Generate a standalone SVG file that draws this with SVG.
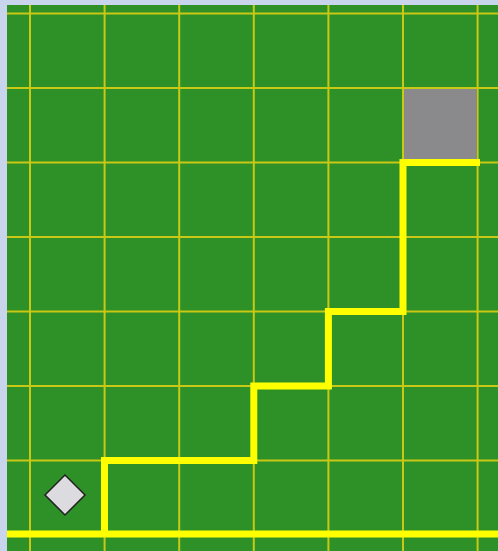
<svg xmlns="http://www.w3.org/2000/svg" width="498" height="551" viewBox="0 0 498 551">
<style>
.grid line{stroke:#c9c814;stroke-width:2}
.path{fill:none;stroke:#ffff00;stroke-width:7;stroke-linejoin:miter;stroke-linecap:butt}
</style>
<rect width="498" height="551" fill="#c9d5ec"/>
<rect x="7" y="5" width="491" height="546" fill="#2e9128"/>
<g class="grid">
<line x1="30" y1="5" x2="30" y2="551"/>
<line x1="104.6" y1="5" x2="104.6" y2="551"/>
<line x1="179.2" y1="5" x2="179.2" y2="551"/>
<line x1="253.8" y1="5" x2="253.8" y2="551"/>
<line x1="328.4" y1="5" x2="328.4" y2="551"/>
<line x1="403" y1="5" x2="403" y2="551"/>
<line x1="477.6" y1="5" x2="477.6" y2="551"/>
<line x1="7" y1="13.5" x2="498" y2="13.5"/>
<line x1="7" y1="88" x2="498" y2="88"/>
<line x1="7" y1="162.5" x2="498" y2="162.5"/>
<line x1="7" y1="237" x2="498" y2="237"/>
<line x1="7" y1="311.5" x2="498" y2="311.5"/>
<line x1="7" y1="386" x2="498" y2="386"/>
<line x1="7" y1="460.5" x2="498" y2="460.5"/>
<line x1="7" y1="535" x2="498" y2="535"/>
</g>
<g id="goal"><rect x="404" y="89" width="73" height="73" fill="#8a8a8c"/></g>
<g id="connectors">
<path class="path" d="M7 534 H498"/>
<path class="path" d="M104.5 534 V460.5 H253.8 V386 H328.4 V311.5 H403 V162.5 H480"/>
</g>
<g id="start"><polygon points="65,475 85,495 65,515 45,495" fill="#dcdce0" stroke="#222" stroke-width="1.5"/></g>
</svg>
